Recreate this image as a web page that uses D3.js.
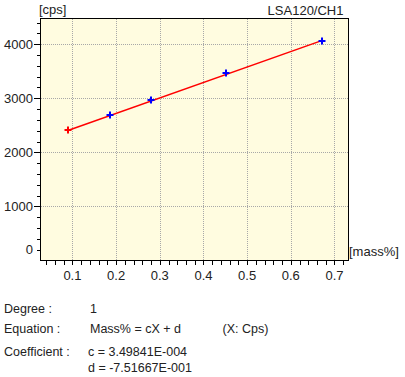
<!DOCTYPE html>
<html>
<head>
<meta charset="utf-8">
<script src="https://cdn.jsdelivr.net/npm/d3@7"></script>
<style>
  body { margin: 0; background: #fff; }
  svg text { font-family: "Liberation Sans", Arial, sans-serif; fill: #222; }
</style>
</head>
<body>
<svg id="chart"></svg>
<script>
// calibration standards (mass% vs measured cps)
const massPct = [0.0895, 0.186, 0.279, 0.4517, 0.6707];
const cps = [2408, 2684, 2974, 3459, 4063];
const pointColors = ["#ff0000", "#0000ff", "#0000ff", "#0000ff", "#0000ff"];

// fit coefficients: Mass% = cX + d
const coefC = 3.49841e-4;
const coefD = -7.51667e-1;

const xTicks = [0.1, 0.2, 0.3, 0.4, 0.5, 0.6, 0.7];
const yTicks = [0, 1000, 2000, 3000, 4000];

const width = 405;
const height = 377;
const plotLeft = 41, plotRight = 348, plotTop = 19, plotBottom = 260.5;

const svg = d3.select("#chart")
  .attr("width", width)
  .attr("height", height);

const xScale = d3.scaleLinear()
  .domain([0.028, 0.731])
  .range([plotLeft, plotRight]);

const yScale = d3.scaleLinear()
  .domain([0, 4465])
  .range([plotBottom, plotTop]);

// plot background
svg.append("rect")
  .attr("x", plotLeft)
  .attr("y", plotTop)
  .attr("width", plotRight - plotLeft)
  .attr("height", plotBottom - plotTop)
  .attr("fill", "#fffce0");

// grid
svg.selectAll(".x-grid")
  .data(xTicks)
  .enter().append("line")
  .attr("class", "x-grid")
  .attr("x1", d => Math.round(xScale(d)) + 0.5)
  .attr("x2", d => Math.round(xScale(d)) + 0.5)
  .attr("y1", plotTop)
  .attr("y2", plotBottom)
  .attr("stroke", "#a8a8a8")
  .attr("stroke-dasharray", "1,1");

svg.selectAll(".y-grid")
  .data(yTicks.filter(d => d > 0))
  .enter().append("line")
  .attr("class", "y-grid")
  .attr("x1", plotLeft)
  .attr("x2", plotRight)
  .attr("y1", d => Math.round(yScale(d)) + 0.5)
  .attr("y2", d => Math.round(yScale(d)) + 0.5)
  .attr("stroke", "#a8a8a8")
  .attr("stroke-dasharray", "1,1");

// axes with minor ticks
const xAxis = svg.append("g")
  .attr("transform", `translate(0, ${plotBottom})`)
  .call(d3.axisBottom(xScale).tickValues(d3.range(0.04, 0.73, 0.02)).tickSize(4).tickFormat(""));
xAxis.select(".domain").remove();
xAxis.selectAll(".tick line").attr("stroke", "#000").attr("shape-rendering", "crispEdges");

const yAxis = svg.append("g")
  .attr("transform", `translate(${plotLeft}, 0)`)
  .call(d3.axisLeft(yScale).tickValues(d3.range(200, 4465, 200)).tickSize(4).tickFormat(""));
yAxis.select(".domain").remove();
yAxis.selectAll(".tick line").attr("stroke", "#000").attr("shape-rendering", "crispEdges");

svg.selectAll(".y-major")
  .data(yTicks.filter(d => d > 0))
  .enter().append("line")
  .attr("x1", plotLeft - 7)
  .attr("x2", plotLeft)
  .attr("y1", d => yScale(d))
  .attr("y2", d => yScale(d))
  .attr("stroke", "#000")
  .attr("shape-rendering", "crispEdges");

// tick labels
svg.selectAll(".x-label")
  .data(xTicks)
  .enter().append("text")
  .attr("x", d => xScale(d))
  .attr("y", 280)
  .attr("text-anchor", "middle")
  .attr("font-size", 13)
  .text(d => d.toFixed(1));

svg.selectAll(".y-label")
  .data(yTicks)
  .enter().append("text")
  .attr("x", 33)
  .attr("y", d => d === 0 ? yScale(d) - 6.5 : yScale(d) + 4.7)
  .attr("text-anchor", "end")
  .attr("font-size", 13)
  .text(d => d);

// frame
svg.append("rect")
  .attr("x", plotLeft - 0.5)
  .attr("y", plotTop - 0.5)
  .attr("width", plotRight - plotLeft + 1)
  .attr("height", plotBottom - plotTop + 0.5)
  .attr("fill", "none")
  .attr("stroke", "#000");

// fitted line over the standards range
const fitX = d3.extent(massPct);
svg.append("path")
  .datum(fitX)
  .attr("d", d3.line()
    .x(d => xScale(d))
    .y(d => yScale((d - coefD) / coefC)))
  .attr("stroke", "#ff0000")
  .attr("stroke-width", 1.5)
  .attr("fill", "none");

// standards as crosses
const pts = svg.selectAll(".pt")
  .data(massPct.map((m, i) => ({ m, c: cps[i], col: pointColors[i] })))
  .enter().append("g")
  .attr("transform", d => `translate(${Math.round(xScale(d.m))}, ${Math.round(yScale(d.c))})`);

pts.append("line")
  .attr("x1", -3.5).attr("x2", 3.5)
  .attr("y1", 0).attr("y2", 0)
  .attr("stroke", d => d.col).attr("stroke-width", 2);
pts.append("line")
  .attr("x1", 0).attr("x2", 0)
  .attr("y1", -3.5).attr("y2", 3.5)
  .attr("stroke", d => d.col).attr("stroke-width", 2);

// titles
svg.append("text").attr("x", 39).attr("y", 14).attr("font-size", 13).text("[cps]");
svg.append("text").attr("x", 343.5).attr("y", 15).attr("font-size", 13)
  .attr("text-anchor", "end").text("LSA120/CH1");
svg.append("text").attr("x", 349).attr("y", 256).attr("font-size", 13).text("[mass%]");

// fit info block
const info = [
  { x: 4, y: 313, t: "Degree :" },
  { x: 90, y: 313, t: "1" },
  { x: 4, y: 333, t: "Equation :" },
  { x: 90, y: 333, t: "Mass% = cX + d" },
  { x: 222.5, y: 333, t: "(X: Cps)" },
  { x: 4, y: 355.5, t: "Coefficient :" },
  { x: 88, y: 355.5, t: "c = 3.49841E-004" },
  { x: 88, y: 371.5, t: "d = -7.51667E-001" }
];
svg.selectAll(".info")
  .data(info)
  .enter().append("text")
  .attr("x", d => d.x)
  .attr("y", d => d.y)
  .attr("font-size", 12.5)
  .text(d => d.t);
</script>
</body>
</html>
